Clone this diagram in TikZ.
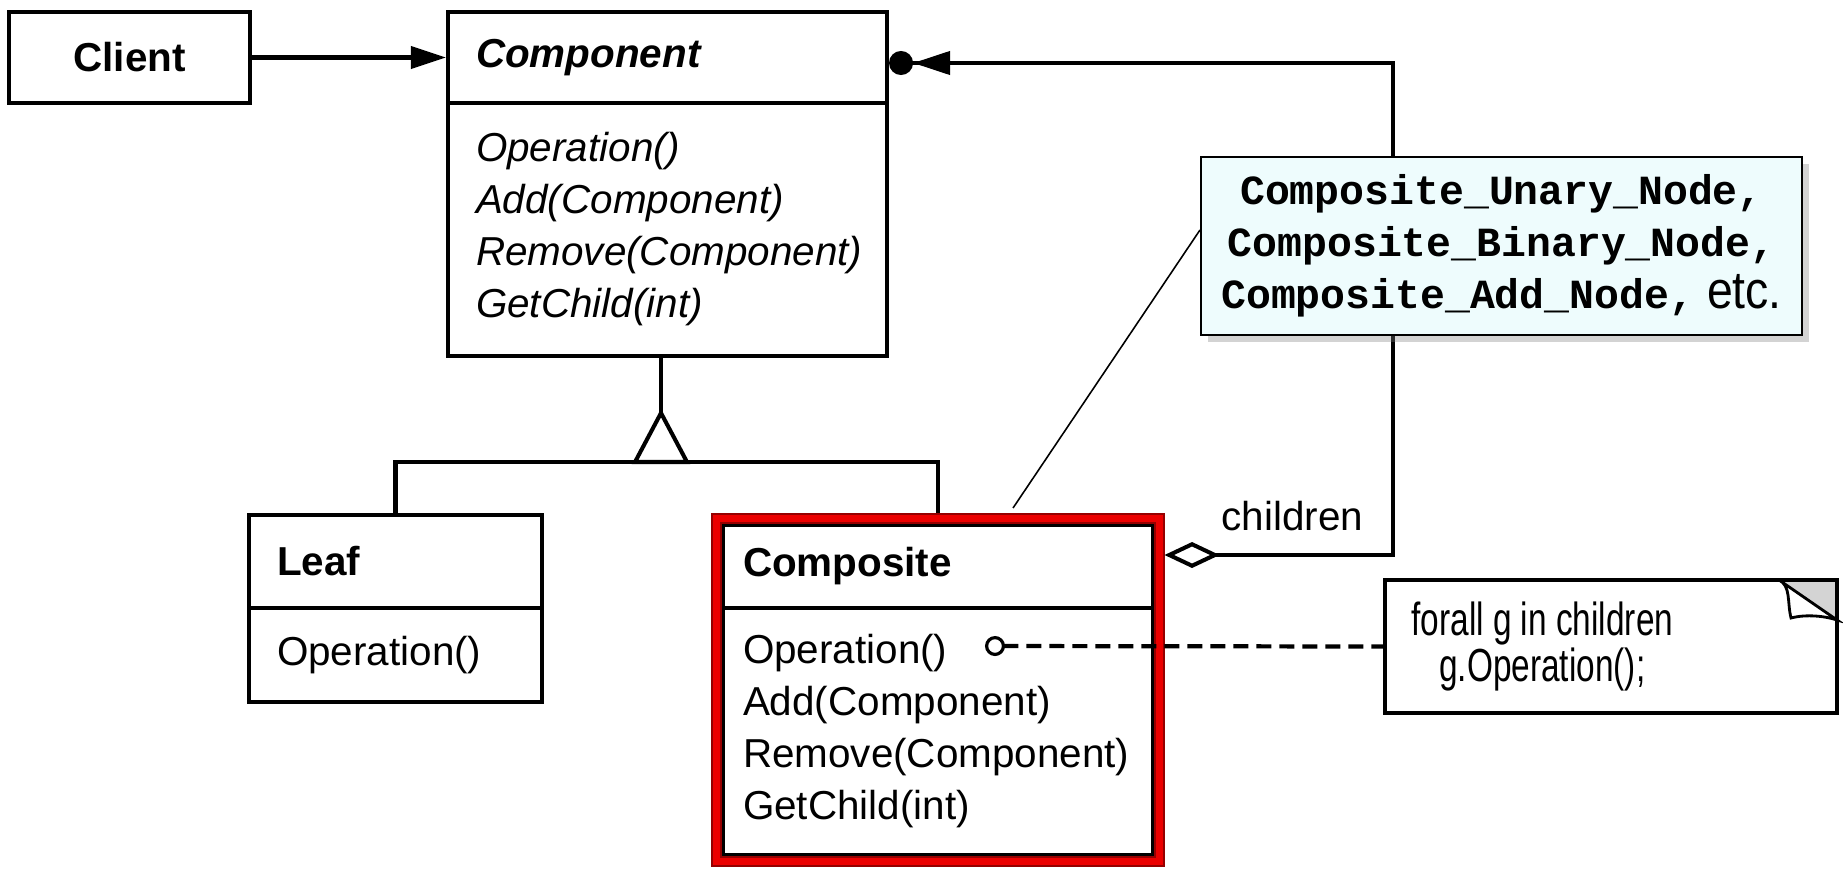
\documentclass[tikz,border=0pt]{standalone}
\usepackage{fontspec}
\setmainfont{Liberation Sans}
\setmonofont{Liberation Mono}
\newfontfamily\narrowsans[FakeStretch=0.72]{Liberation Sans}
\newfontfamily\etcsans[FakeStretch=0.88]{Liberation Sans}
\newcommand{\etcfont}{\etcsans\mdseries\fontsize{15}{14.8}\selectfont}
\definecolor{notecyan}{RGB}{238,252,253}
\definecolor{framered}{RGB}{236,0,0}
\definecolor{framedark}{RGB}{150,0,0}
\definecolor{foldgray}{RGB}{212,212,212}
\usetikzlibrary{arrows.meta,positioning,calc,fit,shadows}

\begin{document}
\begin{tikzpicture}[
  umlfont/.style={font=\fontsize{11.5}{14.8}\selectfont},
  classhead/.style={draw,line width=1.15pt,umlfont,text width=#1,align=left,inner xsep=0.28cm,inner ysep=0pt},
  classbody/.style={draw,line width=1.15pt,umlfont,text width=#1,align=left,inner xsep=0.28cm,inner ysep=0pt},
  umlline/.style={line width=1.15pt},
]
\useasboundingbox (0,0) rectangle (18.43,8.68);

\node[draw,line width=1.15pt,umlfont,minimum width=2.41cm,minimum height=0.91cm] (client) at (1.295,8.105) {\textbf{Client}};

\node[classhead=3.83cm,minimum height=0.91cm] (comphead) at (6.675,8.105) {\textbf{\textit{Component}}};
\node[classbody=3.83cm,minimum height=2.53cm,below=-1.15pt of comphead] (compbody) {\textit{Operation()}\\\textit{Add(Component)}\\\textit{Remove(Component)}\\\textit{GetChild(int)}};

\node[classhead=2.37cm,minimum height=0.93cm] (leafhead) at (3.955,3.065) {\textbf{Leaf}};
\node[classbody=2.37cm,minimum height=0.94cm,below=-1.15pt of leafhead] (leafbody) {Operation()};

\node[classhead=3.90cm,inner xsep=0.2cm,minimum height=0.83cm] (cmphead) at (9.38,3.015) {\textbf{Composite}};
\node[classbody=3.90cm,inner xsep=0.2cm,minimum height=2.47cm,below=-1.15pt of cmphead] (cmpbody) {Operation()\\Add(Component)\\Remove(Component)\\GetChild(int)};
\node[fit=(cmphead)(cmpbody),inner sep=0.04cm,draw=framedark,line width=0.11cm,postaction={draw=framered,line width=0.07cm}] (composite) {};

% generalisation
\coordinate (inh) at (6.61,4.06);
\draw[umlline] (leafhead.north) |- (inh) -| (composite.north);
\draw[umlline,line join=miter] ([xshift=-0.26cm]inh) -- ([yshift=0.49cm]inh) -- ([xshift=0.26cm]inh) -- cycle;
\draw[umlline] ([yshift=0.49cm]inh) -- (inh |- compbody.south);

\draw[umlline,-{Triangle[length=0.35cm,width=0.22cm]}] (client) -- (comphead);

% children aggregation
\coordinate (childpt) at (13.93,3.13);
\coordinate (backpt) at (13.93,8.05);
\draw[umlline,{Diamond[open,length=0.55cm,width=0.26cm]}-{Triangle[length=0.37cm,width=0.23cm]Circle[length=0.24cm]}] (composite.east |- childpt) -- node[umlfont,above=0.1cm,pos=0.56] (childlbl) {children} (childpt) -- (backpt) -- (comphead.east |- backpt);

\coordinate (implptr) at (10.13,3.60);
\node[draw,line width=0.6pt,fill=notecyan,drop shadow={shadow xshift=0.07cm,shadow yshift=-0.07cm,opacity=0.35},minimum width=6.01cm,minimum height=1.78cm,align=center,font=\fontsize{11.8}{14.8}\selectfont\ttfamily\bfseries] (impl) at (15.015,6.22) {Composite\_Unary\_Node,\\Composite\_Binary\_Node,\\Composite\_Add\_Node,{\etcfont{} etc.}};
\draw[line width=0.45pt] ([yshift=0.16cm]impl.west) -- (implptr);

% code note with folded corner
\node[fill=white,outer sep=0pt,minimum width=4.52cm,minimum height=1.33cm] (code) at (16.11,2.215) {};
\node[anchor=west,align=center,font=\narrowsans\fontsize{13.2}{12}\selectfont] (codetext) at ([xshift=0.14cm]code.west) {forall g in children\\g.Operation();};
\fill[foldgray] ([xshift=-0.58cm]code.north east) -- (code.north east) -- ([yshift=-0.40cm]code.north east) -- cycle;
\draw[line width=0.8pt,fill=white] ([xshift=-0.58cm]code.north east) .. controls +(0.12,-0.06) and +(-0.04,0.16) .. ([xshift=-0.46cm,yshift=-0.38cm]code.north east) .. controls +(0.15,0.04) and +(-0.12,0.04) .. ([yshift=-0.40cm]code.north east) -- cycle;
\draw[line width=1.15pt] (code.south west) rectangle (code.north east);

\coordinate (opdot) at (9.85,2.22);
\draw[line width=1.2pt,dash pattern=on 0.15cm off 0.08cm,{Circle[open,length=0.2cm,line width=0.9pt]}-] (opdot) -- (code.west);
\end{tikzpicture}
\end{document}
